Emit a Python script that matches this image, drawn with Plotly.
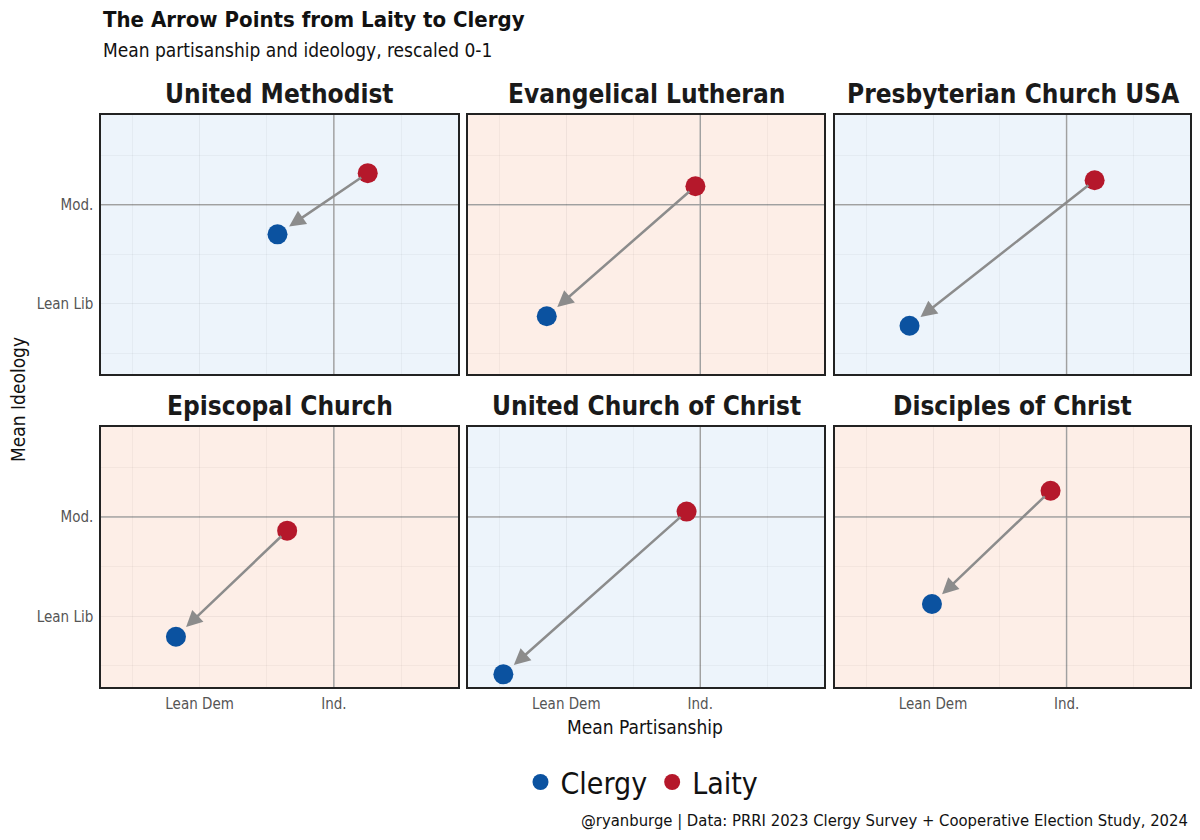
import plotly.graph_objects as go

# ---- data ----
denoms = ["United Methodist", "Evangelical Lutheran", "Presbyterian Church USA",
          "Episcopal Church", "United Church of Christ", "Disciples of Christ"]
laity_pid = [0.542, 0.494, 0.535, 0.442, 0.483, 0.480]
laity_ideo = [0.553, 0.531, 0.541, 0.477, 0.509, 0.544]
clergy_pid = [0.430, 0.309, 0.304, 0.304, 0.255, 0.332]
clergy_ideo = [0.450, 0.312, 0.296, 0.299, 0.236, 0.354]
panel_fill = ["#EDF4FB", "#FDEEE7", "#EDF4FB", "#FDEEE7", "#EDF4FB", "#FDEEE7"]

x_ticks = [1/3, 0.5]
x_ticktext = ["Lean Dem", "Ind."]
y_ticks = [1/3, 0.5]
y_ticktext = ["Lean Lib", "Mod."]
minor_ticks = [0.25, 5/12, 7/12]

CLERGY = "#0B52A0"
LAITY = "#B5182B"
FONT = "Liberation Sans Narrow, DejaVu Sans Condensed, Roboto, sans-serif"

W, H = 1200, 840
col_px = [(101, 458), (468, 824), (835, 1190)]
row_px = [(115, 374), (427, 687)]
XR = [0.211, 0.654]
YR = [0.2147, 0.651]

fig = go.Figure()
layout = dict(
    width=W, height=H, margin=dict(l=0, r=0, t=0, b=0),
    paper_bgcolor="white", plot_bgcolor="rgba(0,0,0,0)",
    font=dict(family=FONT, color="#222"),
    showlegend=True,
    legend=dict(orientation="h", x=0.535, xanchor="center", y=1 - 782 / H, yanchor="middle",
                font=dict(size=30, family=FONT, color="#111"), itemsizing="trace",
                tracegroupgap=0),
)
shapes = []
annotations = []

for i, name in enumerate(denoms):
    r, c = divmod(i, 3)
    n = i + 1
    xa = "x" if n == 1 else f"x{n}"
    ya = "y" if n == 1 else f"y{n}"
    xkey = "xaxis" if n == 1 else f"xaxis{n}"
    ykey = "yaxis" if n == 1 else f"yaxis{n}"
    x0, x1 = col_px[c]
    y0, y1 = row_px[r]
    layout[xkey] = dict(
        domain=[x0 / W, x1 / W], range=XR, anchor=ya,
        tickvals=x_ticks, ticktext=x_ticktext, showticklabels=(r == 1),
        tickfont=dict(size=15, color="#555", family=FONT),
        ticks="outside", ticklen=2, tickcolor="rgba(0,0,0,0)",
        showgrid=True, gridcolor="rgba(0,0,0,0.05)", gridwidth=1,
        minor=dict(tickvals=minor_ticks, showgrid=True, gridcolor="rgba(0,0,0,0.035)", gridwidth=1),
        zeroline=False, showline=True, mirror=True, linecolor="#222", linewidth=1.5,
        fixedrange=True, automargin=False,
    )
    layout[ykey] = dict(
        domain=[1 - y1 / H, 1 - y0 / H], range=YR, anchor=xa,
        tickvals=y_ticks, ticktext=y_ticktext, showticklabels=(c == 0),
        tickfont=dict(size=15, color="#555", family=FONT),
        ticks="outside", ticklen=3, tickcolor="rgba(0,0,0,0)",
        showgrid=True, gridcolor="rgba(0,0,0,0.05)", gridwidth=1,
        minor=dict(tickvals=minor_ticks, showgrid=True, gridcolor="rgba(0,0,0,0.035)", gridwidth=1),
        zeroline=False, showline=True, mirror=True, linecolor="#222", linewidth=1.5,
        fixedrange=True, automargin=False,
    )
    # panel background
    shapes.append(dict(type="rect", xref=f"{xa} domain", yref=f"{ya} domain",
                       x0=0, x1=1, y0=0, y1=1, fillcolor=panel_fill[i],
                       line=dict(width=0), layer="below"))
    # reference lines at Ind. / Mod.
    shapes.append(dict(type="line", xref=xa, yref=ya, x0=0.5, x1=0.5, y0=YR[0], y1=YR[1],
                       line=dict(color="#A9A9A9", width=1.5), layer="below"))
    shapes.append(dict(type="line", xref=xa, yref=ya, x0=XR[0], x1=XR[1], y0=0.5, y1=0.5,
                       line=dict(color="#A9A9A9", width=1.5), layer="below"))
    # facet title
    annotations.append(dict(text=f"<b>{name}</b>", xref="paper", yref="paper",
                            x=(x0 + x1) / 2 / W, y=1 - (y0 - 21) / H, xanchor="center", yanchor="middle",
                            showarrow=False, font=dict(size=26, color="#1a1a1a", family=FONT)))
    # arrow laity -> clergy
    annotations.append(dict(x=clergy_pid[i], y=clergy_ideo[i], ax=laity_pid[i], ay=laity_ideo[i],
                            xref=xa, yref=ya, axref=xa, ayref=ya, text="", showarrow=True,
                            arrowhead=2, arrowsize=1.3, arrowwidth=2.5, arrowcolor="#8C8C8C",
                            standoff=14, startstandoff=6))
    fig.add_trace(go.Scatter(x=[clergy_pid[i]], y=[clergy_ideo[i]], xaxis=xa, yaxis=ya,
                             mode="markers", marker=dict(size=20, color=CLERGY),
                             name="Clergy", legendgroup="Clergy", showlegend=(i == 0),
                             hoverinfo="skip"))
    fig.add_trace(go.Scatter(x=[laity_pid[i]], y=[laity_ideo[i]], xaxis=xa, yaxis=ya,
                             mode="markers", marker=dict(size=20, color=LAITY),
                             name="Laity", legendgroup="Laity", showlegend=(i == 0),
                             hoverinfo="skip"))

# titles & axis titles
annotations += [
    dict(text="<b>The Arrow Points from Laity to Clergy</b>", xref="paper", yref="paper",
         x=101 / W, y=1 - 19 / H, xanchor="left", yanchor="middle", showarrow=False,
         font=dict(size=22, color="#111", family=FONT)),
    dict(text="Mean partisanship and ideology, rescaled 0-1", xref="paper", yref="paper",
         x=101 / W, y=1 - 50 / H, xanchor="left", yanchor="middle", showarrow=False,
         font=dict(size=19, color="#111", family=FONT)),
    dict(text="Mean Partisanship", xref="paper", yref="paper",
         x=645 / W, y=1 - 727 / H, xanchor="center", yanchor="middle", showarrow=False,
         font=dict(size=19, color="#111", family=FONT)),
    dict(text="Mean Ideology", xref="paper", yref="paper", textangle=-90,
         x=18 / W, y=1 - 400 / H, xanchor="center", yanchor="middle", showarrow=False,
         font=dict(size=19, color="#111", family=FONT)),
    dict(text="@ryanburge | Data: PRRI 2023 Clergy Survey + Cooperative Election Study, 2024",
         xref="paper", yref="paper", x=1190 / W, y=1 - 820 / H, xanchor="right", yanchor="middle",
         showarrow=False, font=dict(size=16.5, color="#111", family=FONT)),
]

layout["shapes"] = shapes
layout["annotations"] = annotations
fig.update_layout(**layout)
fig.write_html("out.html")
